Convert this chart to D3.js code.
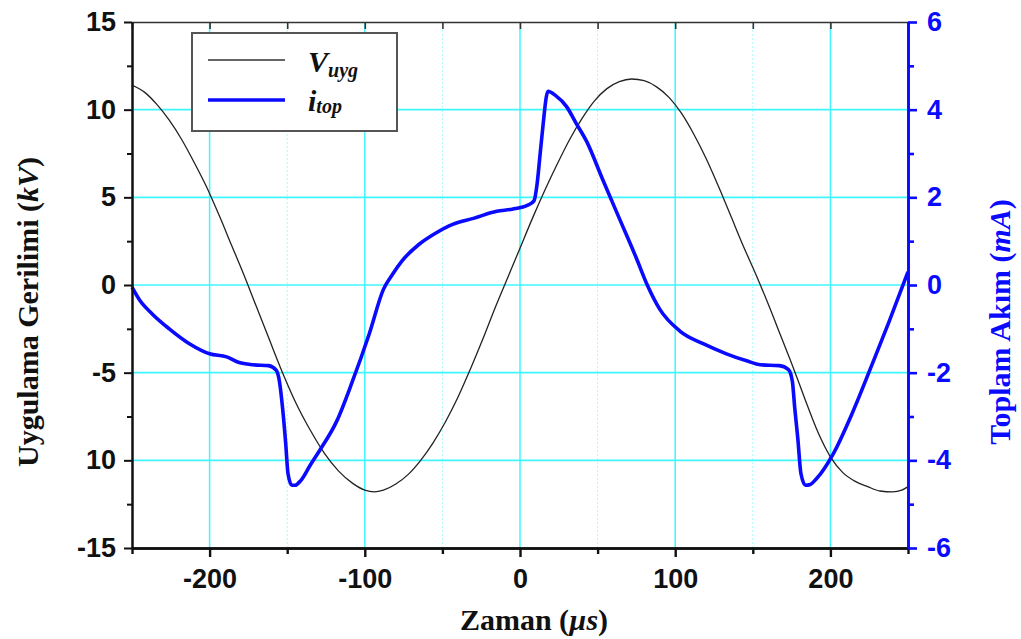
<!DOCTYPE html>
<html lang="tr">
<head>
<meta charset="utf-8">
<script src="https://d3js.org/d3.v7.min.js"></script>
<style>
  body { margin: 0; background: #fff; }
  svg { display: block; }
  .tick text { font-family: "Liberation Sans", Arial, sans-serif; font-weight: bold; font-size: 27px; }
  .ttl { font-family: "Liberation Serif", "Times New Roman", serif; font-weight: bold; font-size: 30px; }
</style>
</head>
<body>
<div id="chart"></div>
<script>
// gerilim (kV), zaman (us)
var vTime = [-250,-242,-234,-226,-218,-210,-202,-194,-186,-178,-170,-162,-153,-144,-135,-126,-117,-108,-100,-94,-88,-80,-72,-64,-56,-48,-40,-32,-24,-16,-8,0,8,16,24,32,40,48,56,64,72,80,88,96,104,112,120,128,136,144,152,160,168,176,184,192,200,208,216,224,232,240,246,250];
var vVals = [11.4,11.0,10.3,9.4,8.3,7.0,5.6,4.0,2.3,0.6,-1.2,-3.0,-5.0,-6.8,-8.3,-9.6,-10.6,-11.3,-11.7,-11.8,-11.7,-11.35,-10.8,-10.0,-9.0,-7.8,-6.4,-4.8,-3.1,-1.3,0.4,2.1,3.8,5.4,6.9,8.3,9.5,10.5,11.2,11.6,11.75,11.65,11.3,10.7,9.8,8.6,7.2,5.6,3.9,2.2,0.6,-1.1,-2.9,-4.7,-6.6,-8.4,-9.8,-10.7,-11.2,-11.5,-11.75,-11.8,-11.7,-11.5];

// toplam akim (mA)
var iTime = [-250,-245,-237,-226,-213,-200,-189,-181,-172,-162,-157,-155,-153,-151,-149.5,-147,-145,-141,-135,-129,-118,-108,-97,-88,-82,-76,-65,-55,-43,-30,-15,-5,5,9,11,13,15,17,18,23,30,36,43,53,64,75,82,90,103,118,133,146,155,167,173,175.5,177,179,181,184,187,191,202,214,227,238,250];
var iVals = [-0.05,-0.35,-0.66,-1.0,-1.34,-1.57,-1.64,-1.77,-1.82,-1.84,-1.95,-2.2,-2.8,-3.6,-4.3,-4.57,-4.57,-4.45,-4.1,-3.77,-3.1,-2.2,-1.1,-0.1,0.25,0.55,0.93,1.17,1.39,1.52,1.68,1.73,1.82,1.92,2.3,3.0,3.7,4.3,4.42,4.32,4.07,3.7,3.27,2.43,1.52,0.61,0.0,-0.55,-1.05,-1.34,-1.57,-1.73,-1.82,-1.84,-1.93,-2.2,-2.8,-3.5,-4.3,-4.57,-4.55,-4.42,-3.84,-2.93,-1.8,-0.82,0.3];

var xMajor = [-200,-100,0,100,200];
var xMinor = [-250,-150,-50,50,150,250];
var xLabels = ["-200","-100","0","100","200"];
var leftMajor = [-15,-10,-5,0,5,10,15];
var leftMinor = [-12.5,-7.5,-2.5,2.5,7.5,12.5];
var leftLabels = ["-15","10","-5","0","5","10","15"];
var rightMajor = [-6,-4,-2,0,2,4,6];
var rightMinor = [-5,-3,-1,1,3,5];
var rightLabels = ["-6","-4","-2","0","2","4","6"];
var gridY = [-10,-5,0,5,10];

var W = 1021, H = 639;
var m = {top: 22, right: 113, bottom: 91, left: 132};
var BLUE = "#0a0aff";
var CYAN = "#3ff6ff";

var svg = d3.select("#chart").append("svg").attr("width", W).attr("height", H);

var x = d3.scaleLinear().domain([-250, 250]).range([m.left, W - m.right]);
var yL = d3.scaleLinear().domain([-15, 15]).range([H - m.bottom, m.top]);
var yR = d3.scaleLinear().domain([-6, 6]).range([H - m.bottom, m.top]);

// grid
svg.append("g").selectAll("line").data(xMinor.slice(1, -1)).join("line")
    .attr("x1", d => x(d)).attr("x2", d => x(d))
    .attr("y1", m.top).attr("y2", H - m.bottom)
    .attr("stroke", "#a8fbff").attr("stroke-width", 1).attr("stroke-dasharray", "2,2");
svg.append("g").selectAll("line").data(xMajor).join("line")
    .attr("x1", d => x(d)).attr("x2", d => x(d))
    .attr("y1", m.top).attr("y2", H - m.bottom)
    .attr("stroke", CYAN).attr("stroke-width", 1.5);
svg.append("g").selectAll("line").data(gridY).join("line")
    .attr("x1", m.left).attr("x2", W - m.right)
    .attr("y1", d => yL(d)).attr("y2", d => yL(d))
    .attr("stroke", CYAN).attr("stroke-width", 1.6);

// curves
var lineV = d3.line().x((d, k) => x(vTime[k])).y(d => yL(d)).curve(d3.curveMonotoneX);
var lineI = d3.line().x((d, k) => x(iTime[k])).y(d => yR(d)).curve(d3.curveMonotoneX);

svg.append("path").datum(vVals).attr("d", lineV)
    .attr("fill", "none").attr("stroke", "#222").attr("stroke-width", 1.3);
svg.append("path").datum(iVals).attr("d", lineI)
    .attr("fill", "none").attr("stroke", BLUE).attr("stroke-width", 3.6)
    .attr("stroke-linejoin", "round");

// axes
function styleAxis(g, color, width) {
  g.select(".domain").attr("stroke", color).attr("stroke-width", width);
  g.selectAll(".tick line").attr("stroke", color).attr("stroke-width", width);
  g.selectAll(".tick text").attr("fill", color);
}

var gb = svg.append("g").attr("transform", "translate(0," + (H - m.bottom) + ")");
gb.call(d3.axisBottom(x).tickValues(xMajor).tickSize(9).tickPadding(12)
    .tickFormat((d, k) => xLabels[k]).tickSizeOuter(0));
styleAxis(gb, "#111", 2.4);
gb.append("g").call(d3.axisBottom(x).tickValues(xMinor).tickSize(6).tickFormat("").tickSizeOuter(0))
  .call(g => styleAxis(g, "#111", 2.4));

var gt = svg.append("g").attr("transform", "translate(0," + m.top + ")");
gt.call(d3.axisTop(x).tickValues(xMajor.concat(xMinor)).tickSize(-7).tickFormat("").tickSizeOuter(0));
styleAxis(gt, "#333", 1.6);

var gl = svg.append("g").attr("transform", "translate(" + m.left + ",0)");
gl.call(d3.axisLeft(yL).tickValues(leftMajor).tickSize(8).tickPadding(8)
    .tickFormat((d, k) => leftLabels[k]).tickSizeOuter(0));
styleAxis(gl, "#111", 2);
gl.append("g").call(d3.axisLeft(yL).tickValues(leftMinor).tickSize(5).tickFormat("").tickSizeOuter(0))
  .call(g => styleAxis(g, "#111", 2));

var gr = svg.append("g").attr("transform", "translate(" + (W - m.right) + ",0)");
gr.call(d3.axisRight(yR).tickValues(rightMajor).tickSize(9).tickPadding(10)
    .tickFormat((d, k) => rightLabels[k]).tickSizeOuter(0));
styleAxis(gr, BLUE, 2.6);
gr.append("g").call(d3.axisRight(yR).tickValues(rightMinor).tickSize(6).tickFormat("").tickSizeOuter(0))
  .call(g => styleAxis(g, BLUE, 2.6));

// axis titles
var tx = svg.append("text").attr("class", "ttl").attr("text-anchor", "middle")
    .attr("x", 534).attr("y", 630).attr("fill", "#111");
tx.append("tspan").text("Zaman (");
tx.append("tspan").attr("font-style", "italic").text("µs");
tx.append("tspan").text(")");

var tl = svg.append("text").attr("class", "ttl").attr("text-anchor", "middle")
    .attr("transform", "translate(38,312) rotate(-90)").attr("fill", "#111");
tl.append("tspan").text("Uygulama Gerilimi (");
tl.append("tspan").attr("font-style", "italic").text("kV");
tl.append("tspan").text(")");

var tr = svg.append("text").attr("class", "ttl").attr("text-anchor", "middle")
    .attr("transform", "translate(1010,322) rotate(-90)").attr("fill", BLUE);
tr.append("tspan").text("Toplam Akım (");
tr.append("tspan").attr("font-style", "italic").text("mA");
tr.append("tspan").text(")");

// legend
var lg = svg.append("g");
lg.append("rect").attr("x", 192).attr("y", 33).attr("width", 205).attr("height", 98)
    .attr("fill", "#fff").attr("stroke", "#555").attr("stroke-width", 2);
lg.append("line").attr("x1", 208).attr("x2", 285).attr("y1", 60).attr("y2", 60)
    .attr("stroke", "#333").attr("stroke-width", 1.5);
lg.append("line").attr("x1", 208).attr("x2", 285).attr("y1", 100).attr("y2", 100)
    .attr("stroke", BLUE).attr("stroke-width", 3.6);
var t1 = lg.append("text").attr("class", "ttl").attr("x", 308).attr("y", 72)
    .attr("font-style", "italic").attr("font-size", 30).attr("fill", "#111");
t1.append("tspan").text("V");
t1.append("tspan").attr("font-size", 20).attr("dy", 5).text("uyg");
var t2 = lg.append("text").attr("class", "ttl").attr("x", 308).attr("y", 111)
    .attr("font-style", "italic").attr("font-size", 30).attr("fill", "#111");
t2.append("tspan").text("i");
t2.append("tspan").attr("font-size", 20).attr("dy", 2).text("top");
</script>
</body>
</html>
